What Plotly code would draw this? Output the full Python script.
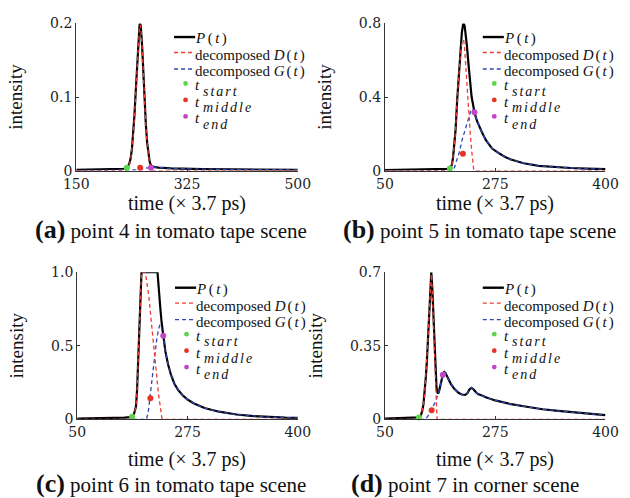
import plotly.graph_objects as go

W, H = 630, 498

# ---------------- (a) point 4 in tomato tape scene ----------------
ta_P = [150, 200, 225, 230, 232, 234, 236, 238, 240, 242, 244, 246, 248, 250, 251, 252,
        254, 256, 258, 260, 262, 264, 266, 268, 272, 280, 300, 350, 400, 450, 500]
va_P = [0.001, 0.0015, 0.0025, 0.004, 0.006, 0.010, 0.017, 0.030, 0.050, 0.076, 0.108,
        0.145, 0.178, 0.198, 0.200, 0.196, 0.170, 0.130, 0.093, 0.062, 0.038, 0.022,
        0.012, 0.007, 0.005, 0.004, 0.003, 0.002, 0.0015, 0.001, 0.001]
ta_D = [150, 228, 232, 234, 236, 238, 240, 242, 244, 246, 248, 250, 251, 252, 254, 256,
        258, 260, 262, 264, 266, 268, 270, 500]
va_D = [0, 0, 0.004, 0.008, 0.015, 0.028, 0.048, 0.074, 0.106, 0.143, 0.176, 0.196, 0.198,
        0.194, 0.168, 0.128, 0.091, 0.060, 0.036, 0.020, 0.010, 0.004, 0, 0]
ta_G = [150, 230, 250, 258, 268, 272, 280, 300, 350, 400, 450, 500]
va_G = [0, 0, 0.001, 0.003, 0.005, 0.005, 0.004, 0.003, 0.002, 0.0015, 0.001, 0.001]
ta_marks = [230, 251, 268]
va_marks = [0.004, 0.004, 0.004]

# ---------------- (b) point 5 in tomato tape scene ----------------
tb_P = [50, 100, 130, 145, 150, 153, 156, 158, 160, 162, 164.7, 167, 169.8, 172, 174, 175,
        176.5, 178, 180, 182.5, 185, 187.5, 190, 192, 196, 200, 205, 210, 220, 230, 240,
        250, 270, 294, 320, 345, 370, 400]
vb_P = [0.003, 0.004, 0.005, 0.007, 0.009, 0.011, 0.03, 0.07, 0.14, 0.22, 0.39, 0.52, 0.656,
        0.75, 0.795, 0.8, 0.785, 0.745, 0.68, 0.58, 0.48, 0.40, 0.355, 0.317, 0.27, 0.235,
        0.2, 0.167, 0.12, 0.096, 0.075, 0.06, 0.04, 0.026, 0.019, 0.014, 0.011, 0.008]
tb_D = [50, 150, 153, 156, 158, 160, 162, 164.7, 167, 169.8, 172, 174.8, 176.5, 178, 179.8,
        182.4, 185, 187.5, 190, 191, 400]
vb_D = [0, 0, 0.005, 0.03, 0.07, 0.14, 0.22, 0.39, 0.52, 0.64, 0.69, 0.71, 0.66, 0.57, 0.48,
        0.358, 0.217, 0.112, 0.025, 0, 0]
tb_G = [50, 157, 160, 164.7, 168, 172.3, 176, 179.8, 183, 186, 189] + tb_P[23:]
vb_G = [0, 0, 0.015, 0.06, 0.1, 0.165, 0.21, 0.253, 0.29, 0.323, 0.335] + vb_P[23:]
tb_marks = [153, 173.7, 192]
vb_marks = [0.011, 0.091, 0.317]

# ---------------- (c) point 6 in tomato tape scene ----------------
tc_P = [50, 100, 125, 135, 138, 140, 142, 143.3, 145, 146.9, 148, 149.4, 150.5, 152, 177.4,
        178.5, 180.4, 182, 183.9, 185.5, 186.5, 187.4, 190, 194.1, 199, 204.2, 210, 216.9,
        225, 234.6, 252, 275, 303, 330, 354, 380, 400]
vc_P = [0.005, 0.008, 0.012, 0.016, 0.02, 0.035, 0.06, 0.088, 0.2, 0.396, 0.55, 0.725, 0.87,
        1.0, 1.0, 0.92, 0.835, 0.75, 0.66, 0.60, 0.568, 0.535, 0.46, 0.374, 0.3, 0.242,
        0.2, 0.165, 0.135, 0.11, 0.077, 0.052, 0.033, 0.022, 0.015, 0.012, 0.01]
tc_D = [50, 136, 140, 142, 143.3, 145, 146.9, 148, 149.4, 150.5, 152, 158, 160, 163.7, 168.7,
        173.7, 178.9, 183.9, 185, 400]
vc_D = [0, 0, 0.03, 0.06, 0.088, 0.2, 0.396, 0.55, 0.725, 0.87, 1.0, 1.0, 0.95, 0.835, 0.615,
        0.396, 0.176, 0.022, 0, 0]
tc_G = [50, 160, 163, 166.1, 171.3, 176.3, 179, 181.3, 183, 185] + tc_P[20:]
vc_G = [0, 0, 0.06, 0.176, 0.374, 0.549, 0.61, 0.645, 0.64, 0.6] + vc_P[20:]
tc_marks = [137.2, 166.1, 186.5]
vc_marks = [0.018, 0.143, 0.568]

# ---------------- (d) point 7 in corner scene ----------------
td_P = [50, 80, 100, 104, 107, 108.9, 111, 112.9, 114.8, 116.5, 118.3, 120, 121.8, 123.5,
        125, 126.6, 127.9, 129.1, 130.4, 131.7, 133, 134.2, 135.5, 136.8, 138.3, 140, 141.8,
        143, 144.3, 146, 149, 154.5, 160, 167.2, 172, 177.4, 181, 184, 187.4, 190.5, 194,
        197.6, 205, 210, 225, 250, 275, 300, 325, 350, 375, 400]
vd_P = [0.003, 0.005, 0.007, 0.009, 0.02, 0.038, 0.07, 0.123, 0.2, 0.277, 0.39, 0.508, 0.63,
        0.7, 0.63, 0.508, 0.39, 0.277, 0.2, 0.154, 0.13, 0.123, 0.13, 0.15, 0.169, 0.19,
        0.212, 0.222, 0.225, 0.22, 0.2, 0.169, 0.145, 0.125, 0.118, 0.116, 0.125, 0.142,
        0.15, 0.143, 0.13, 0.12, 0.112, 0.105, 0.09, 0.072, 0.06, 0.048, 0.04, 0.033,
        0.026, 0.02]
td_D = [50, 103, 107, 108.9, 111, 112.9, 114.8, 116.5, 118.3, 120, 121.8, 123.7, 125.2, 126.6,
        128, 129.3, 130.7, 131.7, 132.6, 400]
vd_D = [0, 0, 0.015, 0.035, 0.068, 0.12, 0.198, 0.275, 0.385, 0.5, 0.62, 0.69, 0.6, 0.48,
        0.354, 0.24, 0.123, 0.05, 0, 0]
td_G = [50, 114, 118, 121.5, 125, 129.1, 132] + td_P[21:]
vd_G = [0, 0, 0.015, 0.038, 0.055, 0.077, 0.1] + vd_P[21:]
td_marks = [103.8, 124.1, 141.8]
vd_marks = [0.009, 0.043, 0.212]

# axis ticks
xt_a_vals, xt_a_text = [150, 325, 500], ["150", "325", "500"]
xt_b_vals, xt_b_text = [50, 225, 400], ["50", "275", "400"]
yt_a = [0, 0.1, 0.2]
yt_b = [0, 0.4, 0.8]
yt_c = [0, 0.5, 1.0]
yt_d = [0, 0.35, 0.7]
yt_a_text = ["0", "0.1", "0.2"]
yt_b_text = ["0", "0.4", "0.8"]
yt_c_text = ["0", "0.5", "1.0"]
yt_d_text = ["0", "0.35", "0.7"]

captions = ["point 4 in tomato tape scene", "point 5 in tomato tape scene",
            "point 6 in tomato tape scene", "point 7 in corner scene"]
letters = ["(a)", "(b)", "(c)", "(d)"]

# colours
C_P = "#000000"
C_D = "#ee3b33"
C_G = "#3346b5"
C_START = "#5fd34f"
C_MID = "#e5332a"
C_END = "#c445c4"

SERIF = "Liberation Serif"
TICKFONT = dict(family="DejaVu Serif", size=14, color="#222")


def fx(p):
    return p / W


def fy(p):
    return 1 - p / H


def math(s, gap=1.5):
    return "<span style='letter-spacing:{}px'>{}</span>".format(gap, s)


panels = [
    dict(L=66, R=297, T=16, B=168, xr=[150, 500], xtv=xt_a_vals, xtt=xt_a_text, yr=[0, 0.2],
         ytv=yt_a, ytt=yt_a_text, P=(ta_P, va_P), D=(ta_D, va_D), G=(ta_G, va_G),
         M=(ta_marks, va_marks), time_y=202, cap_y=229, cap_x=165, leg_dy=0),
    dict(L=388, R=618, T=16, B=168, xr=[50, 400], xtv=xt_b_vals, xtt=xt_b_text, yr=[0, 0.8],
         ytv=yt_b, ytt=yt_b_text, P=(tb_P, vb_P), D=(tb_D, vb_D), G=(tb_G, vb_G),
         M=(tb_marks, vb_marks), time_y=202, cap_y=229, cap_x=487, leg_dy=0),
    dict(L=67, R=297, T=273, B=425, xr=[50, 400], xtv=xt_b_vals, xtt=xt_b_text, yr=[0, 1.0],
         ytv=yt_c, ytt=yt_c_text, P=(tc_P, vc_P), D=(tc_D, vc_D), G=(tc_G, vc_G),
         M=(tc_marks, vc_marks), time_y=466, cap_y=491, cap_x=165, leg_dy=2),
    dict(L=388, R=618, T=273, B=425, xr=[50, 400], xtv=xt_b_vals, xtt=xt_b_text, yr=[0, 0.7],
         ytv=yt_d, ytt=yt_d_text, P=(td_P, vd_P), D=(td_D, vd_D), G=(td_G, vd_G),
         M=(td_marks, vd_marks), time_y=466, cap_y=491, cap_x=471, leg_dy=2),
]

fig = go.Figure()
shapes, annos = [], []


def label(text, x, y, size, xanchor="center"):
    return dict(text=text, x=fx(x), y=fy(y), xref="paper", yref="paper", showarrow=False,
                xanchor=xanchor, yanchor="middle", borderpad=0,
                font=dict(family=SERIF, size=size, color="#111"))


for i, p in enumerate(panels):
    n = "" if i == 0 else str(i + 1)
    xa, ya = "x" + n, "y" + n
    axis_common = dict(showline=True, linecolor="#333", linewidth=1.2, ticks="inside",
                       ticklen=3, tickwidth=1, tickcolor="#333", showgrid=False,
                       zeroline=False, tickfont=TICKFONT, fixedrange=True)
    fig.update_layout({
        "xaxis" + n: dict(domain=[fx(p["L"]), fx(p["R"])], range=p["xr"], anchor=ya,
                          tickmode="array", tickvals=p["xtv"], ticktext=p["xtt"], **axis_common),
        "yaxis" + n: dict(domain=[fy(p["B"]), fy(p["T"])], range=p["yr"], anchor=xa,
                          tickmode="array", tickvals=p["ytv"], ticktext=p["ytt"],
                          title=dict(text="intensity", standoff=22,
                                     font=dict(family=SERIF, size=19, color="#111")),
                          **axis_common),
    })
    fig.add_trace(go.Scatter(x=p["P"][0], y=p["P"][1], mode="lines", xaxis=xa, yaxis=ya,
                             line=dict(color=C_P, width=2.2), cliponaxis=False,
                             showlegend=False))
    fig.add_trace(go.Scatter(x=p["G"][0], y=p["G"][1], mode="lines", xaxis=xa, yaxis=ya,
                             line=dict(color=C_G, width=1.3, dash="4px,3px"), cliponaxis=False,
                             showlegend=False))
    fig.add_trace(go.Scatter(x=p["D"][0], y=p["D"][1], mode="lines", xaxis=xa, yaxis=ya,
                             line=dict(color=C_D, width=1.3, dash="4px,3px"), cliponaxis=False,
                             showlegend=False))
    fig.add_trace(go.Scatter(x=p["M"][0], y=p["M"][1], mode="markers", xaxis=xa, yaxis=ya,
                             marker=dict(color=[C_START, C_MID, C_END], size=6),
                             cliponaxis=False, showlegend=False))

    # in-panel key
    L, T = p["L"], p["T"] + p["leg_dy"]
    x0, x1, xm, xt = L + 102, L + 124, L + 114, L + 123
    rows = [T + 16, T + 33, T + 50, T + 67, T + 84, T + 101]
    shapes.append(dict(type="line", xref="paper", yref="paper", x0=fx(x0), x1=fx(x1),
                       y0=fy(rows[0] - 2), y1=fy(rows[0] - 2), line=dict(color=C_P, width=2.4)))
    shapes.append(dict(type="line", xref="paper", yref="paper", x0=fx(x0), x1=fx(x1),
                       y0=fy(rows[1] - 3), y1=fy(rows[1] - 3),
                       line=dict(color=C_D, width=1.3, dash="4px,3px")))
    shapes.append(dict(type="line", xref="paper", yref="paper", x0=fx(x0), x1=fx(x1),
                       y0=fy(rows[2] - 3), y1=fy(rows[2] - 3),
                       line=dict(color=C_G, width=1.3, dash="4px,3px")))
    for r, c in zip(rows[3:], [C_START, C_MID, C_END]):
        shapes.append(dict(type="circle", xref="paper", yref="paper", x0=fx(xm - 2.5),
                           x1=fx(xm + 2.5), y0=fy(r - 7.5), y1=fy(r - 2.5),
                           fillcolor=c, line=dict(width=0)))
    annos.append(label(math("<i>P</i>(<i>t</i>)", 2.5), xt, rows[0], 15, xanchor="left"))
    annos.append(label("decomposed " + math("<i>D</i>(<i>t</i>)", 2), xt, rows[1], 15,
                       xanchor="left"))
    annos.append(label("decomposed " + math("<i>G</i>(<i>t</i>)", 2), xt, rows[2], 15,
                       xanchor="left"))
    for r, s in zip(rows[3:], ["start", "middle", "end"]):
        annos.append(label("<i>t</i>", xt, r - 3, 15, xanchor="left"))
        annos.append(label(math("<i>" + s + "</i>", 2), xt + 8, r + 3, 14, xanchor="left"))

    # x title and caption
    annos.append(label("time (× 3.7 ps)", (p["L"] + p["R"]) / 2, p["time_y"], 20))
    annos.append(label("<b><span style='font-size:26px'>" + letters[i] + "</span></b> "
                       + captions[i], p["cap_x"], p["cap_y"], 21))

fig.update_layout(width=W, height=H, margin=dict(l=0, r=0, t=0, b=0),
                  paper_bgcolor="white", plot_bgcolor="white",
                  shapes=shapes, annotations=annos, showlegend=False)

fig.write_html("out.html", config={"displayModeBar": False})
